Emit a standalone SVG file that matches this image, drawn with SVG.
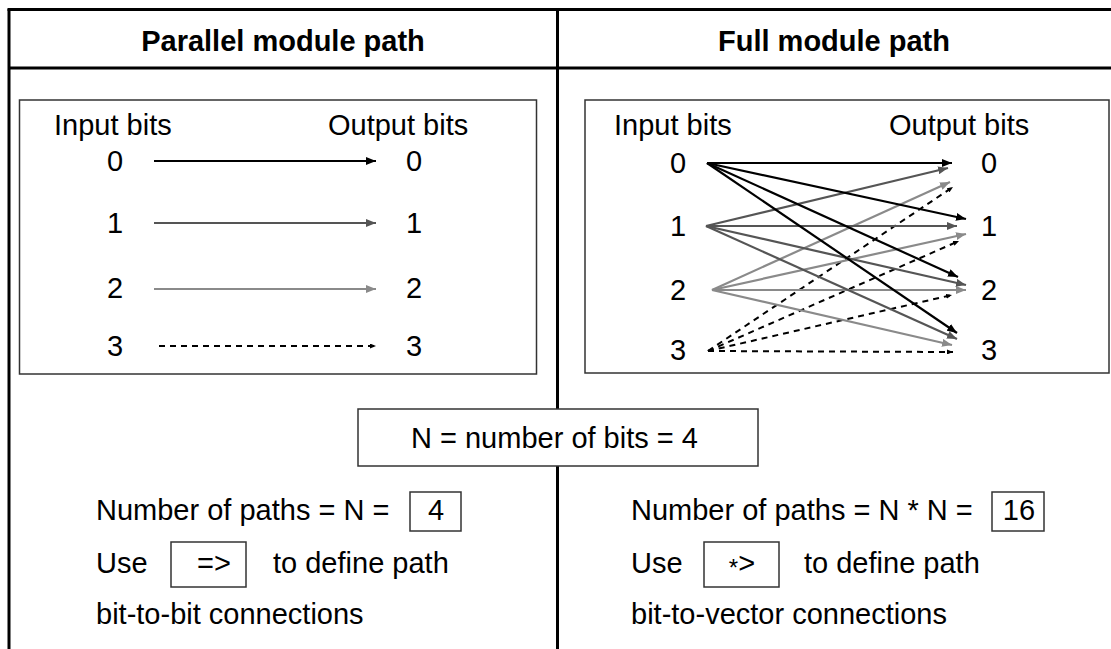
<svg xmlns="http://www.w3.org/2000/svg" width="1111" height="649" viewBox="0 0 1111 649">
<style>
text{font-family:"Liberation Sans",Arial,Helvetica,sans-serif;font-size:29px;fill:#000}
.hd{font-weight:bold}
.frame{stroke:#000;stroke-width:3;fill:none}
.box{stroke:#333;stroke-width:1.5;fill:#fff}
.c0{stroke:#000;stroke-width:2.2;fill:none}
.c1{stroke:#555;stroke-width:2.2;fill:none}
.c2{stroke:#8a8a8a;stroke-width:2.2;fill:none}
.c3{stroke:#000;stroke-width:2;fill:none;stroke-dasharray:6 5}
.mid{text-anchor:middle}
</style>
<defs>
<marker id="a0" markerUnits="userSpaceOnUse" markerWidth="10" markerHeight="8" viewBox="0 0 10 8" refX="10" refY="4" orient="auto"><path d="M0,0 L10,4 L0,8 z" fill="#000"/></marker>
<marker id="a1" markerUnits="userSpaceOnUse" markerWidth="10" markerHeight="8" viewBox="0 0 10 8" refX="10" refY="4" orient="auto"><path d="M0,0 L10,4 L0,8 z" fill="#555"/></marker>
<marker id="a2" markerUnits="userSpaceOnUse" markerWidth="10" markerHeight="8" viewBox="0 0 10 8" refX="10" refY="4" orient="auto"><path d="M0,0 L10,4 L0,8 z" fill="#8a8a8a"/></marker>
<marker id="a3" markerUnits="userSpaceOnUse" markerWidth="6" markerHeight="5" viewBox="0 0 6 5" refX="6" refY="2.5" orient="auto"><path d="M0,0 L6,2.5 L0,5 z" fill="#000"/></marker>
</defs>
<rect width="1111" height="649" fill="#fff"/>
<g id="frame">
<line class="frame" x1="7.5" y1="9.5" x2="1111" y2="9.5"/>
<line class="frame" x1="9" y1="9" x2="9" y2="649"/>
<line class="frame" x1="557.5" y1="9" x2="557.5" y2="649"/>
<line class="frame" x1="9" y1="68" x2="1111" y2="68"/>
</g>
<g id="header-parallel"><text class="hd mid" x="283" y="51">Parallel module path</text></g>
<g id="header-full"><text class="hd mid" x="834" y="51">Full module path</text></g>
<g id="parallel-box">
<rect class="box" x="19.5" y="100" width="517" height="274"/>
<text x="54" y="135">Input bits</text>
<text x="328" y="135">Output bits</text>
</g>
<g id="p-in0"><text class="mid" x="115" y="171">0</text></g>
<g id="p-in1"><text class="mid" x="115" y="233">1</text></g>
<g id="p-in2"><text class="mid" x="115" y="298">2</text></g>
<g id="p-in3"><text class="mid" x="115" y="356">3</text></g>
<g id="p-out0"><text class="mid" x="414" y="171">0</text></g>
<g id="p-out1"><text class="mid" x="414" y="233">1</text></g>
<g id="p-out2"><text class="mid" x="414" y="298">2</text></g>
<g id="p-out3"><text class="mid" x="414" y="356">3</text></g>
<g id="full-box">
<rect class="box" x="585" y="100" width="524" height="273"/>
<text x="614" y="135">Input bits</text>
<text x="889" y="135">Output bits</text>
</g>
<g id="f-in0"><text class="mid" x="678" y="173">0</text></g>
<g id="f-in1"><text class="mid" x="678" y="236">1</text></g>
<g id="f-in2"><text class="mid" x="678" y="300">2</text></g>
<g id="f-in3"><text class="mid" x="678" y="360">3</text></g>
<g id="f-out0"><text class="mid" x="989" y="173">0</text></g>
<g id="f-out1"><text class="mid" x="989" y="236">1</text></g>
<g id="f-out2"><text class="mid" x="989" y="300">2</text></g>
<g id="f-out3"><text class="mid" x="989" y="360">3</text></g>
<g id="connectors">
<line class="c0" x1="154" y1="161" x2="376" y2="161" marker-end="url(#a0)"/>
<line class="c1" x1="154" y1="223" x2="376" y2="223" marker-end="url(#a1)"/>
<line class="c2" x1="154" y1="289" x2="376" y2="289" marker-end="url(#a2)"/>
<line class="c3" x1="159" y1="346" x2="376" y2="346" marker-end="url(#a3)"/>
<line class="c3" x1="708" y1="351" x2="953" y2="187" marker-end="url(#a3)"/>
<line class="c3" x1="708" y1="351" x2="959" y2="241" marker-end="url(#a3)"/>
<line class="c3" x1="708" y1="351" x2="952" y2="295" marker-end="url(#a3)"/>
<line class="c3" x1="708" y1="351" x2="953" y2="352" marker-end="url(#a3)"/>
<line class="c2" x1="712" y1="290" x2="950" y2="182" marker-end="url(#a2)"/>
<line class="c2" x1="712" y1="290" x2="966" y2="234" marker-end="url(#a2)"/>
<line class="c2" x1="712" y1="290" x2="966" y2="290" marker-end="url(#a2)"/>
<line class="c2" x1="712" y1="290" x2="952" y2="345" marker-end="url(#a2)"/>
<line class="c1" x1="706" y1="226" x2="948" y2="168" marker-end="url(#a1)"/>
<line class="c1" x1="706" y1="226" x2="957" y2="226" marker-end="url(#a1)"/>
<line class="c1" x1="706" y1="226" x2="966" y2="285" marker-end="url(#a1)"/>
<line class="c1" x1="706" y1="226" x2="957" y2="339" marker-end="url(#a1)"/>
<line class="c0" x1="707" y1="163" x2="952" y2="163" marker-end="url(#a0)"/>
<line class="c0" x1="707" y1="163" x2="966" y2="219" marker-end="url(#a0)"/>
<line class="c0" x1="707" y1="163" x2="958" y2="277" marker-end="url(#a0)"/>
<line class="c0" x1="707" y1="163" x2="957" y2="333" marker-end="url(#a0)"/>
</g>
<g id="n-box">
<rect class="box" x="358" y="409" width="400" height="57"/>
<text x="411" y="448">N = number of bits = 4</text>
</g>
<g id="parallel-notes">
<text x="96" y="520">Number of paths = N =</text>
<rect class="box" x="410" y="492" width="51" height="39"/>
<text class="mid" x="436" y="520">4</text>
<text x="96" y="573">Use</text>
<rect class="box" x="171" y="542" width="75" height="45"/>
<text class="mid" x="214" y="573">=&gt;</text>
<text x="273" y="573">to define path</text>
<text x="96" y="624">bit-to-bit connections</text>
</g>
<g id="full-notes">
<text x="631" y="520">Number of paths = N * N =</text>
<rect class="box" x="992" y="492" width="52" height="39"/>
<text class="mid" x="1019" y="520">16</text>
<text x="631" y="573">Use</text>
<rect class="box" x="704" y="542" width="75" height="45"/>
<text class="mid" x="742" y="573"><tspan font-size="24" dy="3">*</tspan><tspan dy="-3">&gt;</tspan></text>
<text x="804" y="573">to define path</text>
<text x="631" y="624">bit-to-vector connections</text>
</g>
</svg>
